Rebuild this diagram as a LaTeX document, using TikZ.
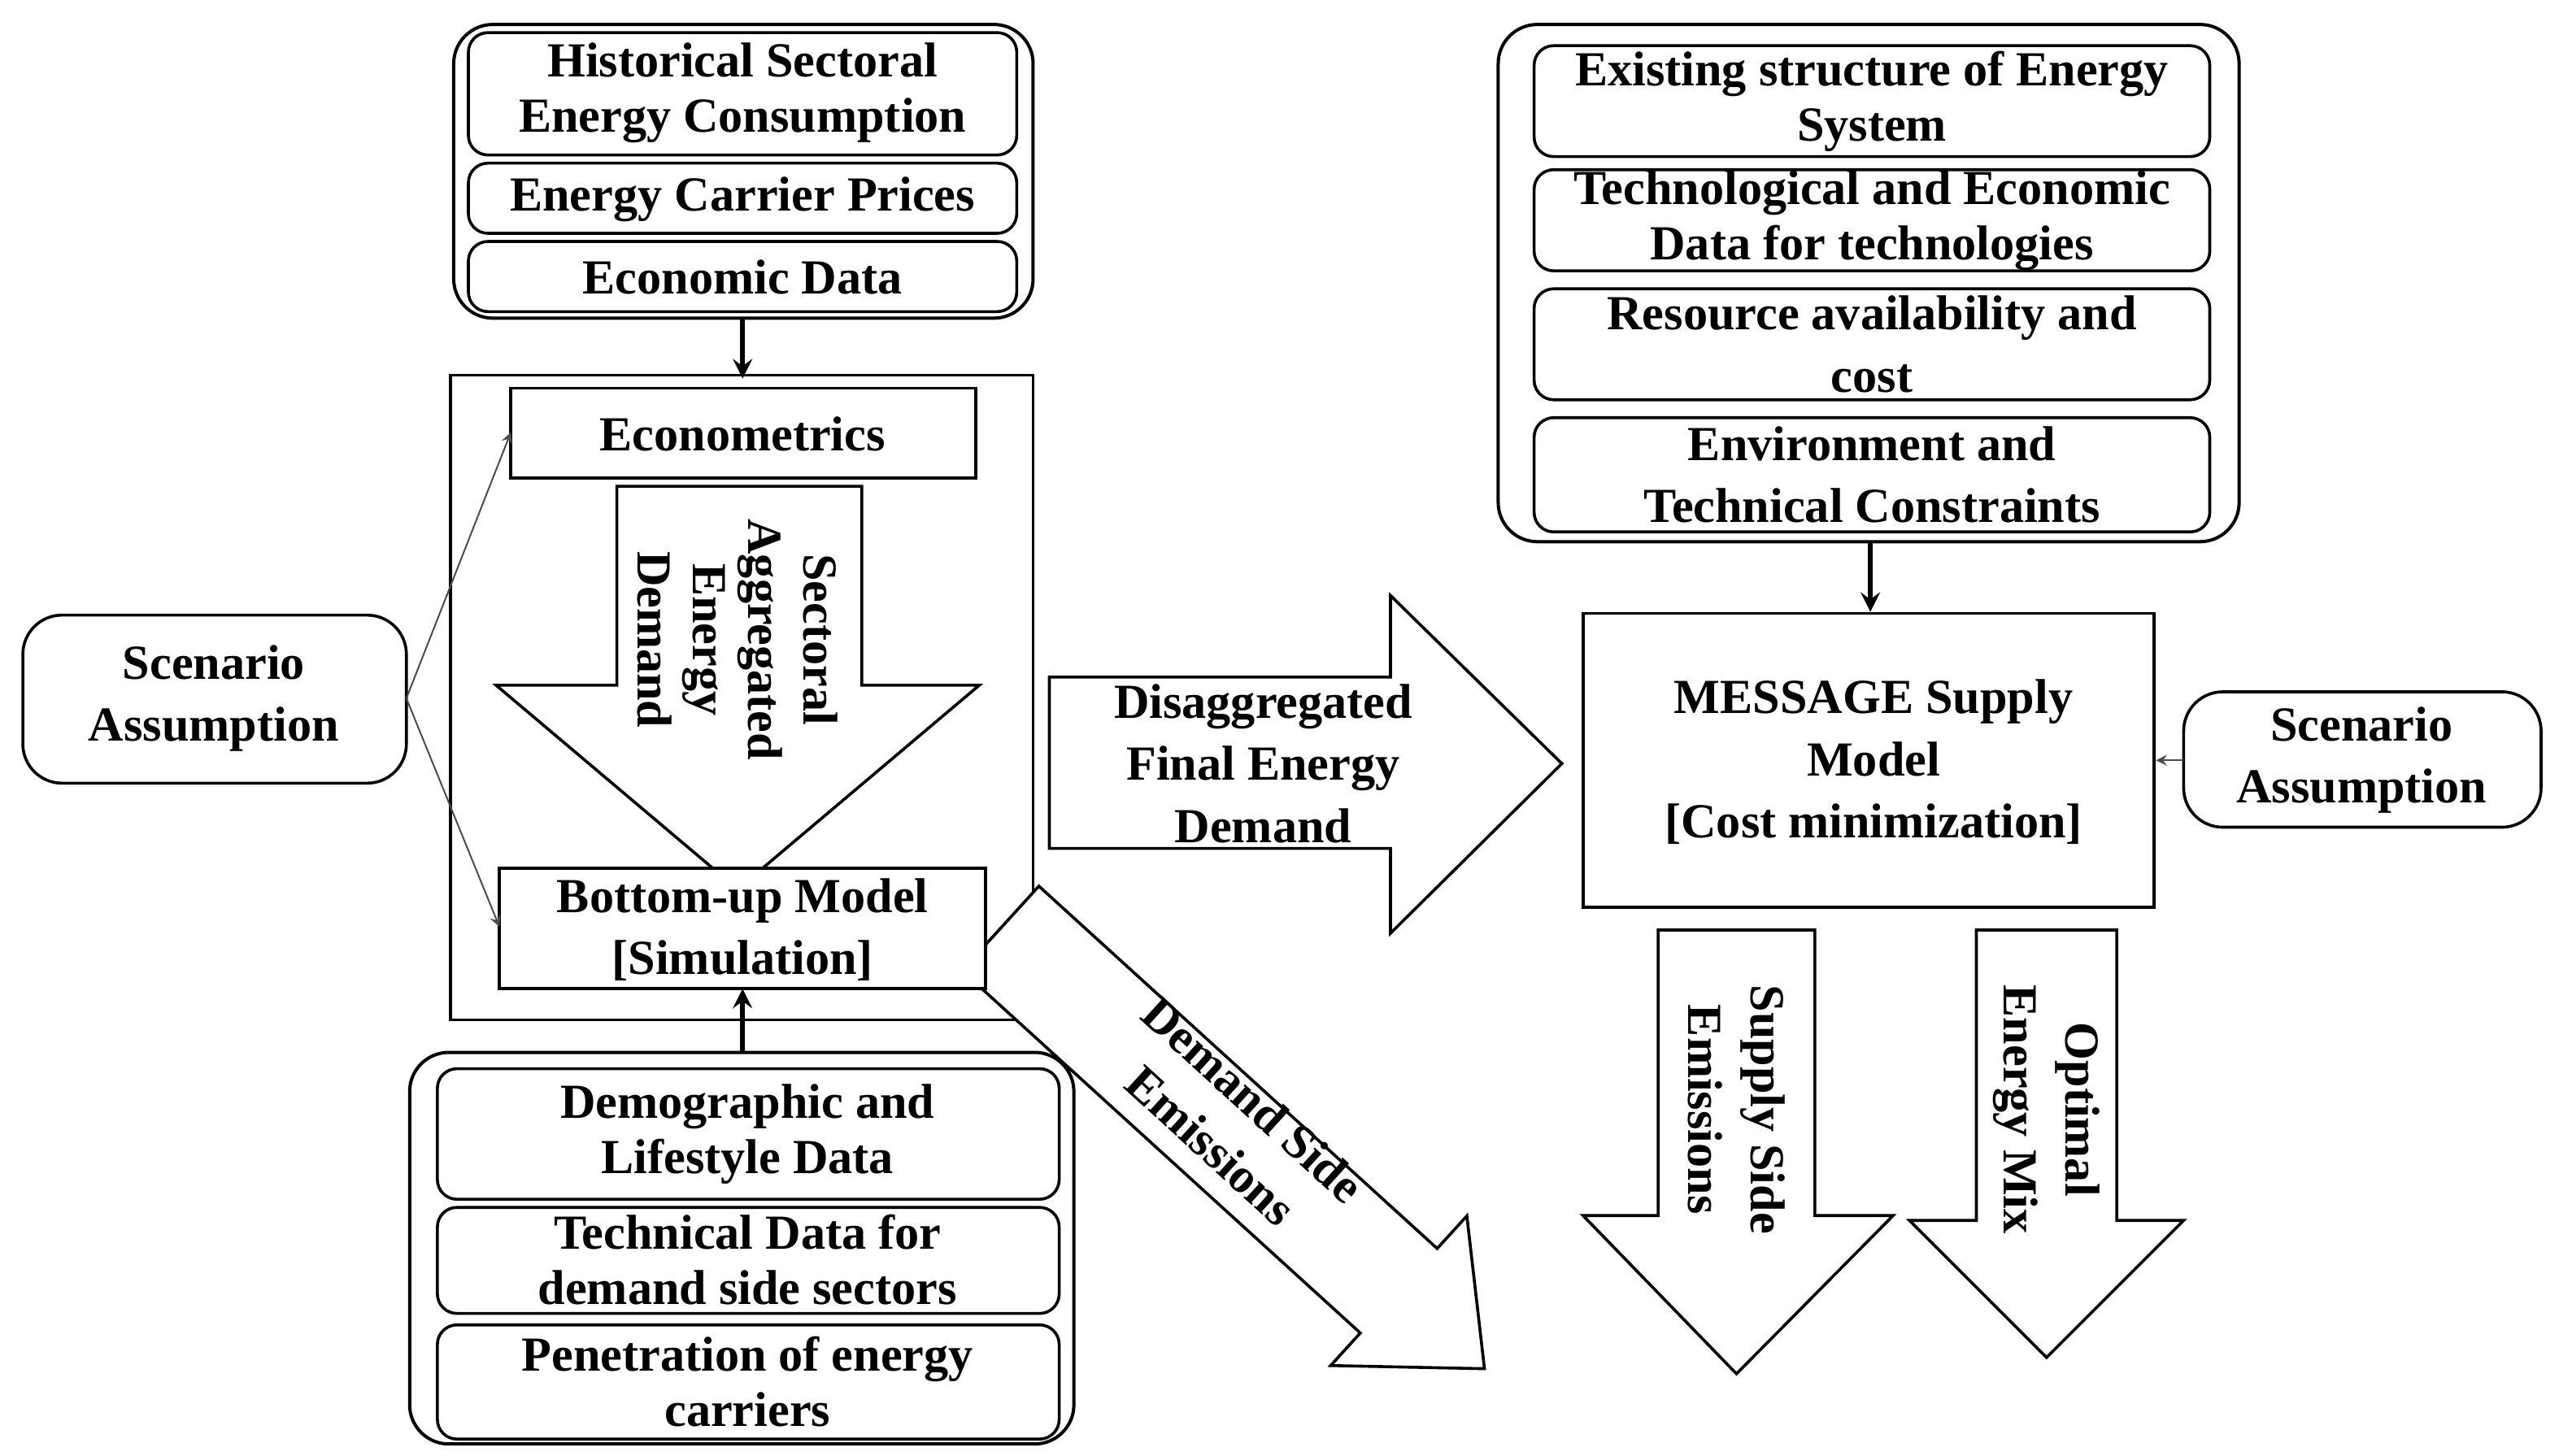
\documentclass[tikz,border=0pt]{standalone}
\usepackage{fontspec}
\setmainfont{Liberation Serif}
\begin{document}
\begin{tikzpicture}[x=0.5pt,y=-0.5pt,line width=0.9pt,
 grp/.style={draw,rounded corners=12pt,line width=1pt},
 box/.style={draw,rounded corners=6pt},
 sq/.style={draw},
 txt/.style={font=\fontsize{15}{17}\selectfont\bfseries,align=center,inner sep=0pt},
 big/.style={draw,line width=0.9pt,fill=white},
 thin/.style={->,line width=0.5pt,>=stealth,gray!60!black},
 thick/.style={->,line width=1.6pt,>=stealth}]
\useasboundingbox (0,0) rectangle (1568,892);
% top-left group
\draw[grp] (278,15) rectangle (633,195);
\draw[box] (287,20) rectangle (623,95);
\node[txt] (h1) at (455,57) {Historical Sectoral\\Energy Consumption};
\draw[box] (287,100) rectangle (623,143);
\node[txt] (h2) at (455,122) {Energy Carrier Prices};
\draw[box] (287,148) rectangle (623,191);
\node[txt] (h3) at (455,170) {Economic Data};
\coordinate (g1b) at (455,195);
% model box
\draw[sq] (276,230) rectangle (633,625);
\coordinate (g2t) at (455,232);
\draw[thick] (g1b) -- (g2t);
% down arrow sectoral
\draw[big] (378,298) -- (528,298) -- (528,420) -- (600,420) -- (452,545) -- (304,420) -- (378,420) -- cycle;
\node[txt,rotate=-90] (sad) at (452,392) {Sectoral\\Aggregated\\Energy\\Demand};
\draw[sq,fill=white] (313,238) rectangle (598,293);
\node[txt] (econ) at (455,266) {Econometrics};
% diagonal arrow
\begin{scope}[shift={(613,569)},rotate=-42.3]
\draw[big] (0,-35) -- (330,-35) -- (330,-62) -- (401,0) -- (330,62) -- (330,35) -- (0,35) -- cycle;
\end{scope}
\draw[sq,fill=white] (306,532) rectangle (604,606);
\node[txt] (bu) at (455,570) {Bottom-up Model\\[2pt][Simulation]};
\node[txt,rotate=-42.3] (dse) at (755,688) {Demand Side\\[2pt]Emissions};
% scenario left
\draw[box,rounded corners=12pt] (14,377) rectangle (249,480);
\node[txt] (sa1) at (131,428) {Scenario\\[2pt]Assumption};
\coordinate (sa1r) at (249,428);
\coordinate (ecol) at (313,265);
\coordinate (bul) at (306,568);
\draw[thin] (sa1r) -- (ecol);
\draw[thin] (sa1r) -- (bul);
% bottom group
\draw[grp] (251,645) rectangle (658,885);
\draw[box] (268,655) rectangle (649,735);
\node[txt] (d1) at (458,695) {Demographic and\\Lifestyle Data};
\draw[box] (268,740) rectangle (649,805);
\node[txt] (d2) at (458,772) {Technical Data for\\demand side sectors};
\draw[box] (268,812) rectangle (649,882);
\node[txt] (d3) at (458,847) {Penetration of energy\\carriers};
\coordinate (g3t) at (455,645);
\coordinate (bub) at (455,606);
\draw[thick] (g3t) -- (bub);
% big right arrow
\draw[big] (643,415) -- (852,415) -- (852,365) -- (957,468) -- (852,572) -- (852,520) -- (643,520) -- cycle;
\node[txt] (dfe) at (774,468) {Disaggregated\\[2pt]Final Energy\\[2pt]Demand};
% top-right group
\draw[grp] (918,15) rectangle (1372,332);
\draw[box] (940,28) rectangle (1354,96);
\node[txt] (r1) at (1147,62) {Existing structure of Energy\\System};
\draw[box] (940,104) rectangle (1354,166);
\node[txt] (r2) at (1147,135) {Technological and Economic\\Data for technologies};
\draw[box] (940,177) rectangle (1354,245);
\node[txt] (r3) at (1147,211) {Resource availability and\\[2pt]cost};
\draw[box] (940,256) rectangle (1354,326);
\node[txt] (r4) at (1147,291) {Environment and\\[2pt]Technical Constraints};
\coordinate (g4b) at (1146,332);
\coordinate (mt) at (1146,375);
\draw[thick] (g4b) -- (mt);
% MESSAGE
\draw[sq] (970,376) rectangle (1320,556);
\node[txt] (msg) at (1148,467) {MESSAGE Supply\\[2pt]Model\\[2pt][Cost minimization]};
\draw[box,rounded corners=12pt] (1338,424) rectangle (1557,507);
\node[txt] (sa2) at (1447,466) {Scenario\\[2pt]Assumption};
\coordinate (sa2l) at (1338,466);
\coordinate (mr) at (1321,466);
\draw[thin] (sa2l) -- (mr);
% supply side arrow
\draw[big] (1016,570) -- (1112,570) -- (1112,745) -- (1160,745) -- (1064,842) -- (970,745) -- (1016,745) -- cycle;
\node[txt,rotate=-90] (sse) at (1064,680) {Supply Side\\[2pt]Emissions};
\draw[big] (1211,570) -- (1297,570) -- (1297,748) -- (1338,748) -- (1254,832) -- (1170,748) -- (1211,748) -- cycle;
\node[txt,rotate=-90] (oem) at (1254,680) {Optimal\\[2pt]Energy Mix};
\end{tikzpicture}
\end{document}
